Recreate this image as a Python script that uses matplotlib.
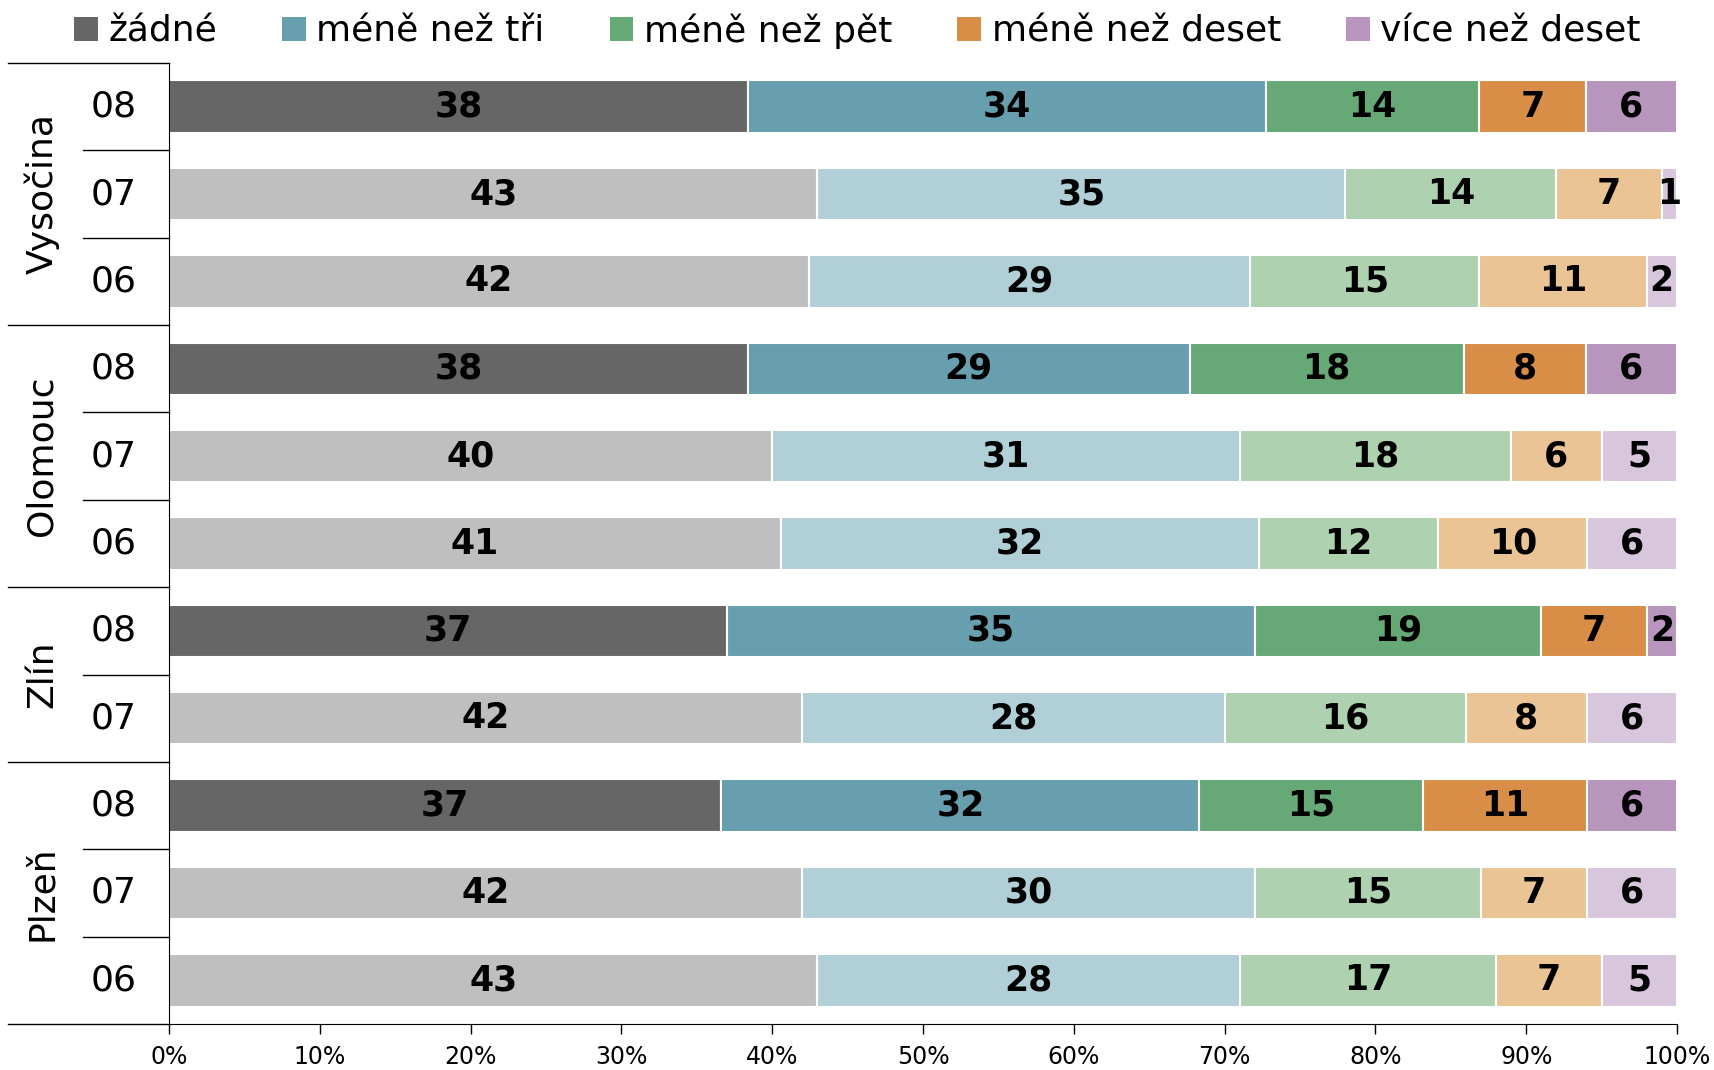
import numpy as np
import matplotlib.pyplot as plt
from matplotlib import transforms
from matplotlib.patches import Patch

categories = ["žádné", "méně než tři", "méně než pět", "méně než deset", "více než deset"]
dark_colors = ["#666666", "#679fae", "#67a877", "#d98e48", "#b795bd"]
light_colors = ["#bfbfbf", "#b0cfd6", "#aed2b0", "#ebc496", "#d8c6dd"]

regions = ["Vysočina", "Olomouc", "Zlín", "Plzeň"]
years = [["08", "07", "06"], ["08", "07", "06"], ["08", "07"], ["08", "07", "06"]]

vysocina = [[38, 34, 14, 7, 6], [43, 35, 14, 7, 1], [42, 29, 15, 11, 2]]
olomouc = [[38, 29, 18, 8, 6], [40, 31, 18, 6, 5], [41, 32, 12, 10, 6]]
zlin = [[37, 35, 19, 7, 2], [42, 28, 16, 8, 6]]
plzen = [[37, 32, 15, 11, 6], [42, 30, 15, 7, 6], [43, 28, 17, 7, 5]]
values = [vysocina, olomouc, zlin, plzen]

rows = []
row_years = []
for reg, yrs, vals in zip(regions, years, values):
    for y, v in zip(yrs, vals):
        rows.append(v)
        row_years.append(y)
data = np.array(rows, dtype=float)
pct = data / data.sum(axis=1, keepdims=True) * 100
n = len(rows)

fig = plt.figure(figsize=(17.15, 10.7), dpi=100)
ax = fig.add_axes([169 / 1715, 1 - 1024 / 1070, (1677 - 169) / 1715, (1024 - 63) / 1070])

ypos = np.arange(n)
for i in range(n):
    cols = dark_colors if row_years[i] == "08" else light_colors
    left = 0
    for j in range(5):
        w = pct[i, j]
        ax.barh(ypos[i], w, left=left, height=0.6, color=cols[j],
                edgecolor="white", linewidth=1.5)
        ax.text(left + w / 2, ypos[i], f"{int(data[i, j])}", ha="center", va="center",
                fontsize=25, fontweight="bold", color="black")
        left += w

ax.set_xlim(0, 100)
ax.set_ylim(n - 0.5, -0.5)
ax.set_yticks([])
ax.set_xticks(np.arange(0, 101, 10))
ax.set_xticklabels([f"{t}%" for t in range(0, 101, 10)], fontsize=17)
ax.tick_params(axis="x", length=7, pad=8, width=1)
for s in ["top", "right"]:
    ax.spines[s].set_visible(False)

# year labels, group labels and separator lines on the left
trans = transforms.blended_transform_factory(fig.transFigure, ax.transData)
x_axis = 169 / 1715
start = 0
for reg, yrs in zip(regions, years):
    k = len(yrs)
    for m, y in enumerate(yrs):
        ax.text(114 / 1715, start + m, y, transform=trans, ha="center", va="center", fontsize=26)
        if m > 0:
            ax.plot([83 / 1715, x_axis], [start + m - 0.5] * 2, transform=trans,
                    color="black", lw=1, clip_on=False)
    ax.plot([8 / 1715, x_axis], [start - 0.5] * 2, transform=trans,
            color="black", lw=1, clip_on=False)
    ax.text(42 / 1715, start + (k - 1) / 2, reg, transform=trans, ha="center", va="center",
            rotation=90, fontsize=26)
    start += k
ax.plot([8 / 1715, x_axis], [n - 0.5] * 2, transform=trans, color="black", lw=1, clip_on=False)

handles = [Patch(facecolor=c) for c in dark_colors]
fig.legend(handles, categories, loc="center", bbox_to_anchor=(0.5, 0.971), ncol=5,
           frameon=False, fontsize=26, handlelength=0.65, handleheight=0.65,
           handletextpad=0.3, columnspacing=1.8)

fig.savefig("out.png", dpi=100)
